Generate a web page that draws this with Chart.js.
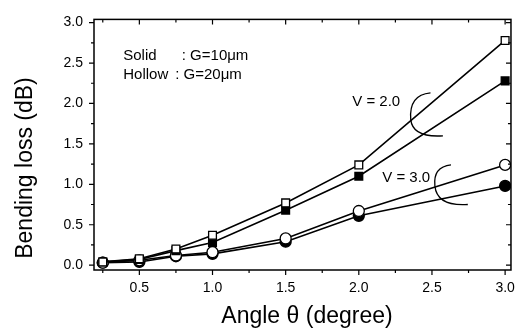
<!DOCTYPE html>
<html>
<head>
<meta charset="utf-8">
<script src="https://cdn.jsdelivr.net/npm/chart.js@4/dist/chart.umd.min.js"></script>
<style>
  html, body { margin: 0; padding: 0; background: #fff; }
  #wrap { width: 525px; height: 329px; }
</style>
</head>
<body>
<div id="wrap"><canvas id="c" width="525" height="329"></canvas></div>
<script>
// Bending angle (degree)
const angles = [0.25, 0.5, 0.75, 1.0, 1.5, 2.0, 3.0];
// Bending loss (dB)
const hollowV2 = [0.04, 0.08, 0.20, 0.37, 0.77, 1.24, 2.78];
const solidV2  = [0.04, 0.07, 0.18, 0.28, 0.68, 1.10, 2.28];
const hollowV3 = [0.03, 0.06, 0.12, 0.16, 0.33, 0.67, 1.24];
const solidV3  = [0.03, 0.04, 0.11, 0.14, 0.29, 0.61, 0.98];

const xMajor = [0.5, 1.0, 1.5, 2.0, 2.5, 3.0];
const xMinor = [0.25, 0.75, 1.25, 1.75, 2.25, 2.75];
const yMajor = [0.0, 0.5, 1.0, 1.5, 2.0, 2.5, 3.0];
const yMinor = [0.25, 0.75, 1.25, 1.75, 2.25, 2.75];

const xTitle = 'Angle \u03b8 (degree)';
const yTitle = 'Bending loss (dB)';

const FONT = "'Liberation Sans', Arial, Helvetica, sans-serif";

function pts(ys) { return angles.map((x, i) => ({ x: x, y: ys[i] })); }

function series(label, ys, style, fill) {
  return {
    label: label,
    data: pts(ys),
    showLine: true,
    borderColor: '#000',
    borderWidth: 1.6,
    pointStyle: style,
    pointRadius: 5.5,
    pointBorderWidth: 1.3,
    pointBorderColor: '#000',
    pointBackgroundColor: fill,
    tension: 0
  };
}

// Frame, tick marks, axis titles, notes and brackets
const decor = {
  id: 'decor',
  afterDraw(chart) {
    const ctx = chart.ctx;
    const a = chart.chartArea;
    const xs = chart.scales.x, ys = chart.scales.y;
    ctx.save();
    ctx.strokeStyle = '#000';
    ctx.lineWidth = 1.5;
    ctx.strokeRect(a.left, a.top, a.right - a.left, a.bottom - a.top);
    ctx.lineWidth = 1.2;
    ctx.beginPath();
    const tick = (vals, len) => {
      vals.forEach(v => {
        const px = xs.getPixelForValue(v);
        ctx.moveTo(px, a.bottom); ctx.lineTo(px, a.bottom + len);
        ctx.moveTo(px, a.top); ctx.lineTo(px, a.top + len);
      });
    };
    tick(xMajor, 5); tick(xMinor, 3);
    const ytick = (vals, len) => {
      vals.forEach(v => {
        const py = ys.getPixelForValue(v);
        ctx.moveTo(a.left, py); ctx.lineTo(a.left - len, py);
        ctx.moveTo(a.right, py); ctx.lineTo(a.right - len, py);
      });
    };
    ytick(yMajor, 5); ytick(yMinor, 3);
    ctx.stroke();

    ctx.fillStyle = '#000';

    // axis titles
    ctx.font = '23px ' + FONT;
    ctx.textAlign = 'center';
    ctx.textBaseline = 'alphabetic';
    ctx.fillText(xTitle, 307, 323);
    ctx.save();
    ctx.translate(32, 168);
    ctx.rotate(-Math.PI / 2);
    ctx.fillText(yTitle, 0, 0);
    ctx.restore();

    // notes
    ctx.font = '15px ' + FONT;
    ctx.textBaseline = 'middle';
    ctx.textAlign = 'left';
    ctx.fillText('Solid', xs.getPixelForValue(0.39), ys.getPixelForValue(2.59));
    ctx.fillText(': G=10\u03bcm', xs.getPixelForValue(0.79), ys.getPixelForValue(2.59));
    ctx.fillText('Hollow', xs.getPixelForValue(0.39), ys.getPixelForValue(2.36));
    ctx.fillText(': G=20\u03bcm', xs.getPixelForValue(0.745), ys.getPixelForValue(2.36));
    ctx.fillText('V = 2.0', xs.getPixelForValue(1.955), ys.getPixelForValue(2.02));
    ctx.fillText('V = 3.0', xs.getPixelForValue(2.16), ys.getPixelForValue(1.08));

    // brackets
    ctx.lineWidth = 1.3;
    const P = (x, y) => [xs.getPixelForValue(x), ys.getPixelForValue(y)];
    const bracket = (t, l, b) => {
      const T = P(t[0], t[1]), L = P(l[0], l[1]), B = P(b[0], b[1]);
      ctx.beginPath();
      ctx.moveTo(T[0], T[1]);
      ctx.quadraticCurveTo(L[0] - 2, T[1] + 2, L[0], L[1]);
      ctx.quadraticCurveTo(L[0] + 2, B[1] + 2, B[0], B[1]);
      ctx.stroke();
    };
    bracket([2.49, 2.13], [2.355, 1.80], [2.575, 1.60]);
    bracket([2.63, 1.24], [2.52, 0.98], [2.745, 0.75]);
    ctx.restore();
  }
};

new Chart(document.getElementById('c'), {
  type: 'scatter',
  data: {
    datasets: [
      series('Hollow, V = 2.0', hollowV2, 'rect', '#fff'),
      series('Solid, V = 2.0', solidV2, 'rect', '#000'),
      series('Hollow, V = 3.0', hollowV3, 'circle', '#fff'),
      series('Solid, V = 3.0', solidV3, 'circle', '#000')
    ]
  },
  options: {
    responsive: false,
    animation: false,
    layout: { padding: { top: 12, right: 11, bottom: 0, left: 0 } },
    plugins: { legend: { display: false }, tooltip: { enabled: false } },
    scales: {
      x: {
        type: 'linear',
        min: 0.19,
        max: 3.04,
        grid: { display: false, drawTicks: false },
        border: { display: false },
        afterBuildTicks(s) { s.ticks = xMajor.map(v => ({ value: v })); },
        ticks: {
          color: '#000',
          padding: 10,
          font: { family: FONT, size: 14 },
          callback: v => v.toFixed(1)
        },
        afterFit(s) { s.height = 59; }
      },
      y: {
        type: 'linear',
        min: -0.06,
        max: 3.04,
        grid: { display: false, drawTicks: false },
        border: { display: false },
        afterBuildTicks(s) { s.ticks = yMajor.map(v => ({ value: v })); },
        ticks: {
          color: '#000',
          padding: 11,
          font: { family: FONT, size: 14 },
          callback: v => v.toFixed(1)
        },
        afterFit(s) { s.width = 94; }
      }
    }
  },
  plugins: [decor]
});
</script>
</body>
</html>
